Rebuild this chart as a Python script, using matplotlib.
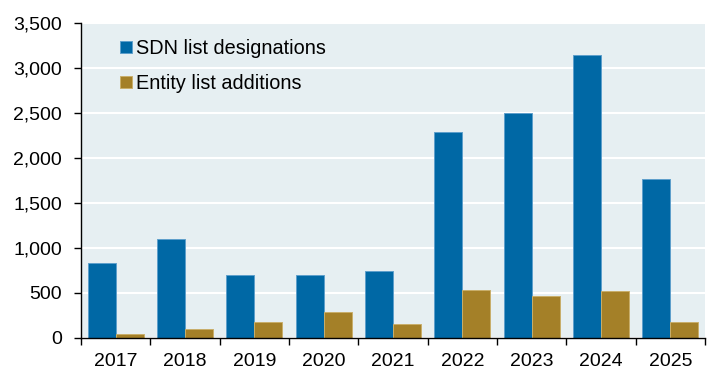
import numpy as np
import matplotlib.pyplot as plt

plt.rcParams['font.family'] = ['Liberation Sans', 'DejaVu Sans']

years = ['2017', '2018', '2019', '2020', '2021', '2022', '2023', '2024', '2025']
sdn = [837, 1105, 703, 703, 743, 2293, 2496, 3147, 1767]
entity = [45, 100, 180, 286, 160, 536, 464, 517, 174]

blue = '#0068A5'
gold = '#A48028'

fig = plt.figure(figsize=(7.13, 3.75), dpi=100)
ax = fig.add_axes([0.1136, 0.0987, 0.8752, 0.84])
ax.set_facecolor('#E6EFF2')

x = np.arange(len(years))
w = 0.405
ax.bar(x - w / 2, sdn, w, color=blue, edgecolor='#5E9FCB', linewidth=0.7,
       label='SDN list designations', zorder=3)
ax.bar(x + w / 2, entity, w, color=gold, edgecolor='#C9AE6A', linewidth=0.7,
       label='Entity list additions', zorder=3)

ax.set_xlim(-0.5, len(years) - 0.5)
ax.set_ylim(0, 3500)
ax.set_yticks(np.arange(0, 3501, 500))
ax.set_yticklabels([f'{v:,}' for v in range(0, 3501, 500)])
ax.set_xticks(x)
ax.set_xticklabels(years)
ax.set_xticks(np.arange(-0.5, len(years)), minor=True)
ax.tick_params(axis='x', which='major', length=0, pad=10.5, labelsize=14)
ax.tick_params(axis='x', which='minor', length=5, width=1, direction='out')
ax.tick_params(axis='y', length=5, width=1, labelsize=14, pad=8.5)

ax.grid(axis='y', color='white', linewidth=1.5, zorder=1)
ax.set_axisbelow(True)
for s in ['top', 'right']:
    ax.spines[s].set_visible(False)
for s in ['left', 'bottom']:
    ax.spines[s].set_linewidth(1)
    ax.spines[s].set_zorder(4)

ax.legend(loc='upper left', bbox_to_anchor=(0.041, 0.993), frameon=False,
          prop={'size': 14.3}, handlelength=0.56, handleheight=0.56,
          handletextpad=0.22, labelspacing=0.8, borderaxespad=0.3)

fig.savefig('out.png', dpi=100)
